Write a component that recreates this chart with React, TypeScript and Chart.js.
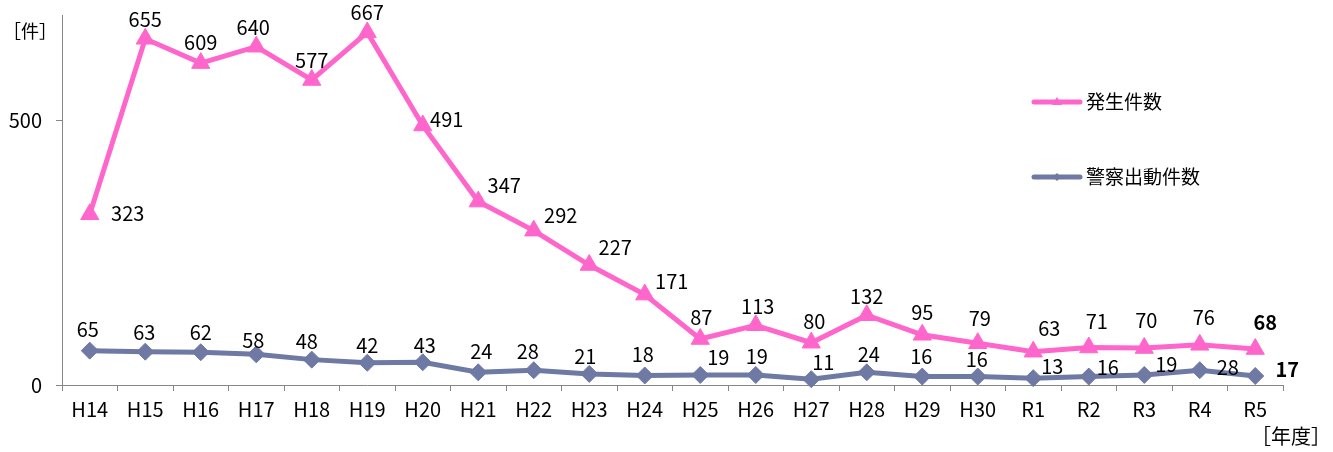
import React, { useEffect, useRef } from 'react';
import { Chart, registerables } from 'chart.js';

Chart.register(...registerables);

const categories = ['H14', 'H15', 'H16', 'H17', 'H18', 'H19', 'H20', 'H21', 'H22', 'H23', 'H24', 'H25', 'H26', 'H27', 'H28', 'H29', 'H30', 'R1', 'R2', 'R3', 'R4', 'R5'];
const incidents = [323, 655, 609, 640, 577, 667, 491, 347, 292, 227, 171, 87, 113, 80, 132, 95, 79, 63, 71, 70, 76, 68];
const dispatches = [65, 63, 62, 58, 48, 42, 43, 24, 28, 21, 18, 19, 19, 11, 24, 16, 16, 13, 16, 19, 28, 17];
const yTicks = [0, 500];
const yMax = 700;
const seriesNames = ['発生件数', '警察出動件数'];
const yUnit = '［件］';
const xUnit = '［年度］';

// label placement (offset of label centre from its point, px)
const incidentLabelOffsets = [[38, 0], [0, -19], [0, -20], [-3, -19], [0, -19], [0, -19], [24, -5], [26, -16], [27, -15], [26, -17], [27, -13], [1, -21], [2, -18], [3, -21], [0, -18], [0, -22], [2, -24], [16, -23], [8, -25], [2, -27], [4, -27], [10, -26]];
const dispatchLabelOffsets = [[-2, -21], [-1, -19], [0, -19], [-3, -13], [-5, -18], [0, -17], [2, -16], [3, -20], [-6, -18], [-4, -17], [-2, -20], [18, -17], [1, -18], [12, -16], [2, -17], [-1, -20], [-1, -17], [19, -11], [19, -9], [22, -10], [28, -2], [32, -6]];

const PINK = '#FF66CC';
const BLUE = '#6E79A4';
const AXIS = '#868686';
const FONT = "'Noto Sans CJK JP', 'Noto Sans', sans-serif";
const W = 1333;
const H = 452;

const overlayPlugin = {
  id: 'overlay',
  afterDatasetsDraw(chart: any) {
    const ctx = chart.ctx;
    ctx.save();
    ctx.fillStyle = '#000';
    ctx.textAlign = 'center';
    ctx.textBaseline = 'alphabetic';
    const offsetsList = [incidentLabelOffsets, dispatchLabelOffsets];
    const dataList = [incidents, dispatches];
    for (let d = 0; d < 2; d++) {
      const meta = chart.getDatasetMeta(d);
      meta.data.forEach((pt: any, i: number) => {
        const last = i === dataList[d].length - 1;
        ctx.font = `${last ? 'bold ' : ''}20px ${FONT}`;
        const [dx, dy] = offsetsList[d][i];
        ctx.fillText(String(dataList[d][i]), pt.x + dx, pt.y + dy + 7);
      });
    }

    // legend
    const legendItems = [
      { name: seriesNames[0], color: PINK, style: 'triangle', y: 102 },
      { name: seriesNames[1], color: BLUE, style: 'rectRot', y: 177 },
    ];
    legendItems.forEach((it) => {
      ctx.strokeStyle = it.color;
      ctx.lineWidth = 5;
      ctx.lineCap = 'round';
      ctx.beginPath();
      ctx.moveTo(1034, it.y);
      ctx.lineTo(1080, it.y);
      ctx.stroke();
      ctx.fillStyle = it.color;
      ctx.beginPath();
      if (it.style === 'triangle') {
        ctx.moveTo(1057, it.y - 5);
        ctx.lineTo(1062, it.y + 3);
        ctx.lineTo(1052, it.y + 3);
      } else {
        ctx.moveTo(1057, it.y - 4);
        ctx.lineTo(1061, it.y);
        ctx.lineTo(1057, it.y + 4);
        ctx.lineTo(1053, it.y);
      }
      ctx.closePath();
      ctx.fill();
      ctx.fillStyle = '#000';
      ctx.textAlign = 'left';
      ctx.font = `19px ${FONT}`;
      ctx.fillText(it.name, 1086, it.y + 7);
    });

    // unit labels
    ctx.textAlign = 'center';
    ctx.font = `18px ${FONT}`;
    ctx.fillText(yUnit, 30, 31 + 7);
    ctx.font = `20px ${FONT}`;
    ctx.fillText(xUnit, 1291, 437 + 7);
    ctx.restore();
  },
};

export default function App() {
  const ref = useRef<HTMLCanvasElement | null>(null);
  useEffect(() => {
    if (!ref.current) return;
    const chart = new Chart(ref.current, {
      type: 'line',
      data: {
        labels: categories,
        datasets: [
          {
            label: seriesNames[0],
            data: incidents,
            borderColor: PINK,
            backgroundColor: PINK,
            borderWidth: 5,
            pointStyle: 'triangle',
            pointRadius: 10.5,
            pointHoverRadius: 10.5,
            pointBorderWidth: 1,
            tension: 0,
            clip: false,
          },
          {
            label: seriesNames[1],
            data: dispatches,
            borderColor: BLUE,
            backgroundColor: BLUE,
            borderWidth: 5,
            pointStyle: 'rectRot',
            pointRadius: 8.5,
            pointHoverRadius: 8.5,
            pointBorderWidth: 1,
            tension: 0,
            clip: false,
          },
        ],
      },
      options: {
        animation: false,
        responsive: false,
        events: [],
        layout: { autoPadding: false, padding: { left: 0, right: 50, top: 15, bottom: 0 } },
        plugins: { legend: { display: false }, tooltip: { enabled: false } },
        scales: {
          x: {
            type: 'category',
            offset: true,
            grid: { offset: true, drawOnChartArea: false, tickLength: 6, color: AXIS, lineWidth: 1 },
            border: { display: true, color: AXIS, width: 1 },
            ticks: { color: '#000', font: { family: FONT, size: 20 }, padding: 6, maxRotation: 0, autoSkip: false },
            afterFit: (s: any) => { s.height = 67; s.paddingLeft = 0; s.paddingRight = 0; },
          },
          y: {
            min: 0,
            max: yMax,
            afterBuildTicks: (s: any) => { s.ticks = yTicks.map((v) => ({ value: v })); },
            grid: { drawOnChartArea: false, tickLength: 6, color: AXIS, lineWidth: 1 },
            border: { display: true, color: AXIS, width: 1 },
            ticks: { color: '#000', font: { family: FONT, size: 20 }, padding: 14 },
            afterFit: (s: any) => { s.width = 62; s.paddingTop = 0; s.paddingBottom = 0; },
          },
        },
      },
      plugins: [overlayPlugin],
    } as any);
    return () => chart.destroy();
  }, []);
  return (
    <div style={{ position: 'absolute', left: 0, top: 0, width: W, height: H }}>
      <canvas ref={ref} width={W} height={H} style={{ display: 'block', width: W, height: H }} />
    </div>
  );
}
